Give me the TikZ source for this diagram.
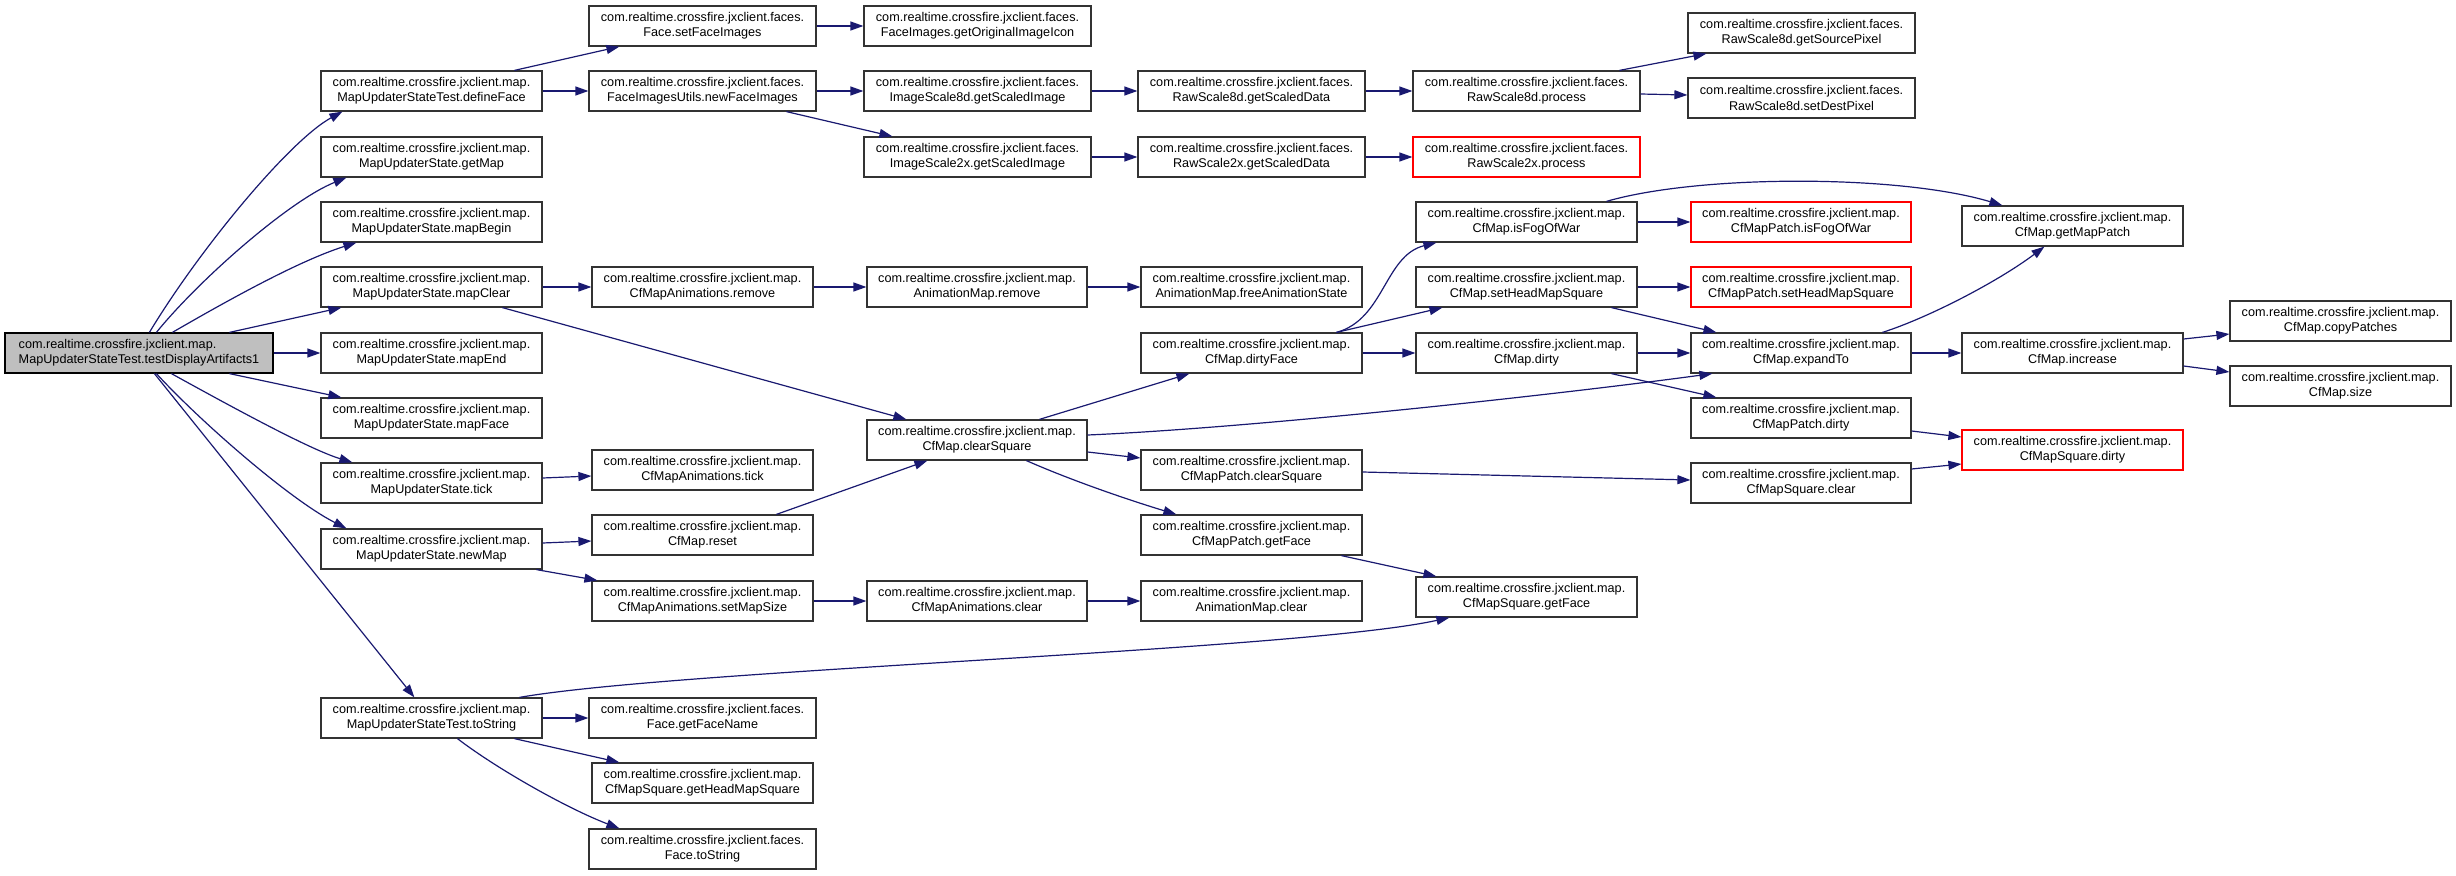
\documentclass[tikz,border=0pt]{standalone}
\usepackage{fontspec}
\setmainfont{Liberation Sans}
\usetikzlibrary{arrows.meta}
\definecolor{edgeblue}{HTML}{191970}
\definecolor{rootgray}{HTML}{BFBFBF}
\definecolor{boxline}{HTML}{333333}
\newcommand\nodefont{\fontsize{12.7}{15.2}\selectfont}
\begin{document}
\begin{tikzpicture}[x=1bp,y=-1bp,
  box/.style={draw=boxline, line width=1.2bp, fill=white, inner sep=0pt,
    minimum height=40bp, align=center, font=\nodefont},
  redbox/.style={box, draw=red},
  rootbox/.style={box, draw=black, fill=rootgray, align=left},
  fw/.style={minimum width=227bp},
  mw/.style={minimum width=221bp},
  edge/.style={draw=edgeblue, line width=1.2bp, -{Triangle[length=13bp,width=9bp]}}
]
\useasboundingbox (0,0) rectangle (2456,875);

% root
\node[rootbox, minimum width=268bp] (root) at (139,353) {com.realtime.crossfire.jxclient.map.\\MapUpdaterStateTest.testDisplayArtifacts1};

% column 2
\node[box,mw] (defineFace) at (431.5,91) {com.realtime.crossfire.jxclient.map.\\MapUpdaterStateTest.defineFace};
\node[box,mw] (getMap) at (431.5,157) {com.realtime.crossfire.jxclient.map.\\MapUpdaterState.getMap};
\node[box,mw] (mapBegin) at (431.5,222) {com.realtime.crossfire.jxclient.map.\\MapUpdaterState.mapBegin};
\node[box,mw] (mapClear) at (431.5,287) {com.realtime.crossfire.jxclient.map.\\MapUpdaterState.mapClear};
\node[box,mw] (mapEnd) at (431.5,353) {com.realtime.crossfire.jxclient.map.\\MapUpdaterState.mapEnd};
\node[box,mw] (mapFace) at (431.5,418) {com.realtime.crossfire.jxclient.map.\\MapUpdaterState.mapFace};
\node[box,mw] (tick) at (431.5,483) {com.realtime.crossfire.jxclient.map.\\MapUpdaterState.tick};
\node[box,mw] (newMap) at (431.5,549) {com.realtime.crossfire.jxclient.map.\\MapUpdaterState.newMap};
\node[box,mw] (toString) at (431.5,718) {com.realtime.crossfire.jxclient.map.\\MapUpdaterStateTest.toString};

% column 3
\node[box,fw] (setFaceImages) at (702.5,26) {com.realtime.crossfire.jxclient.faces.\\Face.setFaceImages};
\node[box,fw] (newFaceImages) at (702.5,91) {com.realtime.crossfire.jxclient.faces.\\FaceImagesUtils.newFaceImages};
\node[box,mw] (cmaRemove) at (702.5,287) {com.realtime.crossfire.jxclient.map.\\CfMapAnimations.remove};
\node[box,mw] (cmaTick) at (702.5,470) {com.realtime.crossfire.jxclient.map.\\CfMapAnimations.tick};
\node[box,mw] (reset) at (702.5,535) {com.realtime.crossfire.jxclient.map.\\CfMap.reset};
\node[box,mw] (setMapSize) at (702.5,601) {com.realtime.crossfire.jxclient.map.\\CfMapAnimations.setMapSize};
\node[box,fw] (getFaceName) at (702.5,718) {com.realtime.crossfire.jxclient.faces.\\Face.getFaceName};
\node[box,mw] (getHeadMapSquare) at (702.5,783) {com.realtime.crossfire.jxclient.map.\\CfMapSquare.getHeadMapSquare};
\node[box,fw] (faceToString) at (702.5,849) {com.realtime.crossfire.jxclient.faces.\\Face.toString};

% column 4
\node[box,fw] (origIcon) at (977.5,26) {com.realtime.crossfire.jxclient.faces.\\FaceImages.getOriginalImageIcon};
\node[box,fw] (isEight) at (977.5,91) {com.realtime.crossfire.jxclient.faces.\\ImageScale8d.getScaledImage};
\node[box,fw] (isTwo) at (977.5,157) {com.realtime.crossfire.jxclient.faces.\\ImageScale2x.getScaledImage};
\node[box,minimum width=220bp] (amRemove) at (977,287) {com.realtime.crossfire.jxclient.map.\\AnimationMap.remove};
\node[box,minimum width=220bp] (clearSquare) at (977,440) {com.realtime.crossfire.jxclient.map.\\CfMap.clearSquare};
\node[box,minimum width=220bp] (cmaClear) at (977,601) {com.realtime.crossfire.jxclient.map.\\CfMapAnimations.clear};

% column 5
\node[box,fw] (rsEightData) at (1251.5,91) {com.realtime.crossfire.jxclient.faces.\\RawScale8d.getScaledData};
\node[box,fw] (rsTwoData) at (1251.5,157) {com.realtime.crossfire.jxclient.faces.\\RawScale2x.getScaledData};
\node[box,mw] (freeAnim) at (1251.5,287) {com.realtime.crossfire.jxclient.map.\\AnimationMap.freeAnimationState};
\node[box,mw] (dirtyFace) at (1251.5,353) {com.realtime.crossfire.jxclient.map.\\CfMap.dirtyFace};
\node[box,mw] (pClearSquare) at (1251.5,470) {com.realtime.crossfire.jxclient.map.\\CfMapPatch.clearSquare};
\node[box,mw] (pGetFace) at (1251.5,535) {com.realtime.crossfire.jxclient.map.\\CfMapPatch.getFace};
\node[box,mw] (amClear) at (1251.5,601) {com.realtime.crossfire.jxclient.map.\\AnimationMap.clear};

% column 6
\node[box,fw] (rsEightProc) at (1526.5,91) {com.realtime.crossfire.jxclient.faces.\\RawScale8d.process};
\node[redbox,fw] (rsTwoProc) at (1526.5,157) {com.realtime.crossfire.jxclient.faces.\\RawScale2x.process};
\node[box,mw] (isFog) at (1526.5,222) {com.realtime.crossfire.jxclient.map.\\CfMap.isFogOfWar};
\node[box,mw] (setHead) at (1526.5,287) {com.realtime.crossfire.jxclient.map.\\CfMap.setHeadMapSquare};
\node[box,mw] (dirty) at (1526.5,353) {com.realtime.crossfire.jxclient.map.\\CfMap.dirty};
\node[box,mw] (sqGetFace) at (1526.5,597) {com.realtime.crossfire.jxclient.map.\\CfMapSquare.getFace};

% column 7
\node[box,fw] (srcPixel) at (1801.5,33) {com.realtime.crossfire.jxclient.faces.\\RawScale8d.getSourcePixel};
\node[box,fw] (destPixel) at (1801.5,98) {com.realtime.crossfire.jxclient.faces.\\RawScale8d.setDestPixel};
\node[redbox,minimum width=220bp] (pIsFog) at (1801,222) {com.realtime.crossfire.jxclient.map.\\CfMapPatch.isFogOfWar};
\node[redbox,minimum width=220bp] (pSetHead) at (1801,287) {com.realtime.crossfire.jxclient.map.\\CfMapPatch.setHeadMapSquare};
\node[box,minimum width=220bp] (expandTo) at (1801,353) {com.realtime.crossfire.jxclient.map.\\CfMap.expandTo};
\node[box,minimum width=220bp] (pDirty) at (1801,418) {com.realtime.crossfire.jxclient.map.\\CfMapPatch.dirty};
\node[box,minimum width=220bp] (sqClear) at (1801,483) {com.realtime.crossfire.jxclient.map.\\CfMapSquare.clear};

% column 8
\node[box,mw] (getMapPatch) at (2072.5,226) {com.realtime.crossfire.jxclient.map.\\CfMap.getMapPatch};
\node[box,mw] (increase) at (2072.5,353) {com.realtime.crossfire.jxclient.map.\\CfMap.increase};
\node[redbox,mw] (sqDirty) at (2072.5,450) {com.realtime.crossfire.jxclient.map.\\CfMapSquare.dirty};

% column 9
\node[box,mw] (copyPatches) at (2340.5,321) {com.realtime.crossfire.jxclient.map.\\CfMap.copyPatches};
\node[box,mw] (size) at (2340.5,386) {com.realtime.crossfire.jxclient.map.\\CfMap.size};

% edges from root
\draw[edge] ([xshift=145bp]root.north west) .. controls +(50,-83) and +(-53,29) .. ([xshift=22bp]defineFace.south west);
\draw[edge] ([xshift=152bp]root.north west) .. controls +(43,-53) and +(-57,23) .. ([xshift=26bp]getMap.south west);
\draw[edge] ([xshift=168bp]root.north west) .. controls +(57,-33) and +(-57,18) .. ([xshift=36bp]mapBegin.south west);
\draw[edge] ([xshift=225bp]root.north west) -- ([xshift=21bp]mapClear.south west);
\draw[edge] (root.east) -- (mapEnd.west);
\draw[edge] ([xshift=225bp]root.south west) -- ([xshift=21bp]mapFace.north west);
\draw[edge] ([xshift=167bp]root.south west) .. controls +(58,32) and +(-43,-13) .. ([xshift=32bp]tick.north west);
\draw[edge] ([xshift=152bp]root.south west) .. controls +(43,47) and +(-57,-29) .. ([xshift=26bp]newMap.north west);
\draw[edge] ([xshift=150bp]root.south west) -- ([xshift=94bp]toString.north west);

% column 2 -> 3
\draw[edge] ([xshift=194bp]defineFace.north west) -- ([xshift=31bp]setFaceImages.south west);
\draw[edge] (defineFace.east) -- (newFaceImages.west);
\draw[edge] (mapClear.east) -- (cmaRemove.west);
\draw[edge] ([xshift=182bp]mapClear.south west) -- ([xshift=40bp]clearSquare.north west);
\draw[edge] ([yshift=5bp]tick.east) -- ([yshift=-6bp]cmaTick.west);
\draw[edge] ([yshift=6bp]newMap.east) -- ([yshift=-6bp]reset.west);
\draw[edge] ([xshift=216bp]newMap.south west) -- ([xshift=6bp]setMapSize.north west);
\draw[edge] (toString.east) -- (getFaceName.west);
\draw[edge] ([xshift=194bp]toString.south west) -- ([xshift=28bp]getHeadMapSquare.north west);
\draw[edge] ([xshift=137bp]toString.south west) .. controls +(42,32) and +(-50,-19) .. ([xshift=31bp]faceToString.north west);
\draw[edge] ([xshift=199bp]toString.north west) .. controls +(160,-28) and +(-150,33) .. ([xshift=34bp]sqGetFace.south west);

% column 3 -> 4
\draw[edge] (setFaceImages.east) -- (origIcon.west);
\draw[edge] (newFaceImages.east) -- (isEight.west);
\draw[edge] ([xshift=198bp]newFaceImages.south west) -- ([xshift=29bp]isTwo.north west);
\draw[edge] (cmaRemove.east) -- (amRemove.west);
\draw[edge] ([xshift=185bp]reset.north west) -- ([xshift=61bp]clearSquare.south west);
\draw[edge] (setMapSize.east) -- (cmaClear.west);

% column 4 -> 5
\draw[edge] (isEight.east) -- (rsEightData.west);
\draw[edge] (isTwo.east) -- (rsTwoData.west);
\draw[edge] (amRemove.east) -- (freeAnim.west);
\draw[edge] (cmaClear.east) -- (amClear.west);
\draw[edge] ([xshift=173bp]clearSquare.north west) -- ([xshift=49bp]dirtyFace.south west);
\draw[edge] ([yshift=5bp]clearSquare.east) .. controls +(163,-7) and +(-163,22) .. ([xshift=22bp]expandTo.south west);
\draw[edge] ([yshift=-12bp]clearSquare.east) -- ([yshift=12bp]pClearSquare.west);
\draw[edge] ([xshift=160bp]clearSquare.south west) .. controls +(50,22) and +(-40,-12) .. ([xshift=36bp]pGetFace.north west);

% column 5 -> 6
\draw[edge] (rsEightData.east) -- (rsEightProc.west);
\draw[edge] (rsTwoData.east) -- (rsTwoProc.west);
\draw[edge] ([xshift=196bp]dirtyFace.north west) .. controls +(48,-13) and +(-52,13) .. ([xshift=21bp]isFog.south west);
\draw[edge] ([xshift=196bp]dirtyFace.north west) -- ([xshift=27bp]setHead.south west);
\draw[edge] (dirtyFace.east) -- (dirty.west);
\draw[edge] ([xshift=201bp]pGetFace.south west) -- ([xshift=21bp]sqGetFace.north west);
\draw[edge] ([yshift=-2bp]pClearSquare.east) -- ([yshift=3bp]sqClear.west);

% column 6 -> 7
\draw[edge] ([xshift=207bp]rsEightProc.north west) -- ([xshift=19bp]srcPixel.south west);
\draw[edge] ([yshift=-3bp]rsEightProc.east) -- ([yshift=3bp]destPixel.west);
\draw[edge] (isFog.east) -- (pIsFog.west);
\draw[edge] ([xshift=191bp]isFog.north west) .. controls +(93,-27) and +(-103,-31) .. ([xshift=41bp]getMapPatch.north west);
\draw[edge] (setHead.east) -- (pSetHead.west);
\draw[edge] ([xshift=196bp]setHead.south west) -- ([xshift=26bp]expandTo.north west);
\draw[edge] (dirty.east) -- (expandTo.west);
\draw[edge] ([xshift=196bp]dirty.south west) -- ([xshift=26bp]pDirty.north west);

% column 7 -> 8 -> 9
\draw[edge] ([xshift=192bp]expandTo.north west) .. controls +(47,-15) and +(-45,34) .. ([xshift=83bp]getMapPatch.south west);
\draw[edge] (expandTo.east) -- (increase.west);
\draw[edge] ([yshift=-13bp]pDirty.east) -- ([yshift=13bp]sqDirty.west);
\draw[edge] ([yshift=14bp]sqClear.east) -- ([yshift=-14bp]sqDirty.west);
\draw[edge] ([yshift=14bp]increase.east) -- ([yshift=-13bp]copyPatches.west);
\draw[edge] ([yshift=-13bp]increase.east) -- ([yshift=14bp]size.west);
\end{tikzpicture}
\end{document}
